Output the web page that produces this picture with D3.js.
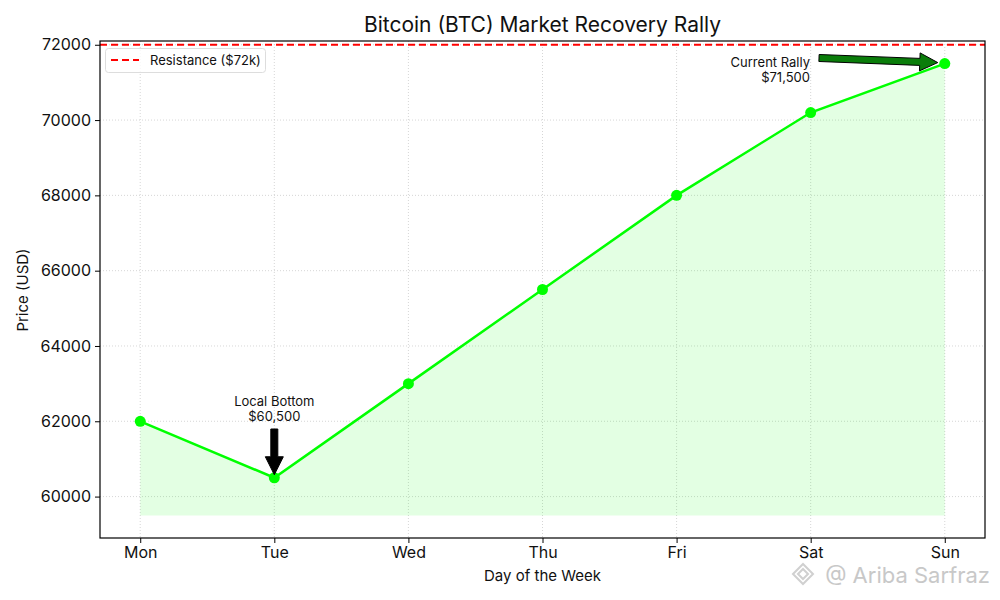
<!DOCTYPE html>
<html><head><meta charset="utf-8">
<script src="https://cdn.jsdelivr.net/npm/d3@7"></script>
<style>body{margin:0;background:#fff;} text{font-family:Inter,"Open Sans",sans-serif;}</style>
</head><body>
<svg id="chart" width="1000" height="600"></svg>
<script>
const days = ["Mon","Tue","Wed","Thu","Fri","Sat","Sun"];
const prices = [62000, 60500, 63000, 65500, 68000, 70200, 71500];
const yTicks = [60000, 62000, 64000, 66000, 68000, 70000, 72000];
const resistance = 72000;
const fillBase = 59500;
const yDomain = [58900, 72100];

const svg = d3.select("#chart");
const L = 100, R = 985, T = 41, B = 538;
const x = d3.scaleLinear().domain([-0.3, 6.3]).range([L, R]);
const y = d3.scaleLinear().domain(yDomain).range([B, T]);

// grid
const g = svg.append("g");
g.selectAll(".vg").data(days).enter().append("line")
  .attr("x1",(d,i)=>x(i)).attr("x2",(d,i)=>x(i)).attr("y1",T).attr("y2",B)
  .attr("stroke","#ccc").attr("stroke-width",0.8).attr("stroke-dasharray","1,2");
g.selectAll(".hg").data(yTicks).enter().append("line")
  .attr("x1",L).attr("x2",R).attr("y1",d=>y(d)).attr("y2",d=>y(d))
  .attr("stroke","#ccc").attr("stroke-width",0.8).attr("stroke-dasharray","1,2");

// area
const area = d3.area().x((d,i)=>x(i)).y0(y(fillBase)).y1(d=>y(d));
svg.append("path").datum(prices).attr("d",area).attr("fill","#00ff00").attr("fill-opacity",0.11);

// line
const line = d3.line().x((d,i)=>x(i)).y(d=>y(d));
svg.append("path").datum(prices).attr("d",line).attr("fill","none").attr("stroke","#00ff00").attr("stroke-width",2.5);
svg.selectAll(".pt").data(prices).enter().append("circle")
  .attr("cx",(d,i)=>x(i)).attr("cy",d=>y(d)).attr("r",5.5).attr("fill","#00ff00");

// resistance
svg.append("line").attr("x1",L).attr("x2",R).attr("y1",y(resistance)).attr("y2",y(resistance))
  .attr("stroke","#ff0000").attr("stroke-width",2).attr("stroke-dasharray","7,4");

// axes
const xAxis = d3.axisBottom(x).tickValues(d3.range(days.length)).tickFormat(i=>days[i]).tickSize(5).tickPadding(4);
const yAxis = d3.axisLeft(y).tickValues(yTicks).tickFormat(d3.format("d")).tickSize(5).tickPadding(4);
const gx = svg.append("g").attr("transform",`translate(0,${B})`).call(xAxis);
const gy = svg.append("g").attr("transform",`translate(${L},0)`).call(yAxis);
[gx,gy].forEach(a=>{a.select(".domain").remove(); a.selectAll("text").attr("font-size",16).attr("fill","#111"); a.selectAll("line").attr("stroke","#000");});
svg.append("rect").attr("x",L).attr("y",T).attr("width",R-L).attr("height",B-T).attr("fill","none").attr("stroke","#000").attr("stroke-width",1.2);

// labels
svg.append("text").attr("x",(L+R)/2).attr("y",32).attr("text-anchor","middle").attr("font-size",21).attr("fill","#111").text("Bitcoin (BTC) Market Recovery Rally");
svg.append("text").attr("x",(L+R)/2).attr("y",581).attr("text-anchor","middle").attr("font-size",15).attr("fill","#111").text("Day of the Week");
svg.append("text").attr("transform","translate(28,290) rotate(-90)").attr("text-anchor","middle").attr("font-size",15).attr("fill","#111").text("Price (USD)");

// legend
svg.append("rect").attr("x",105.5).attr("y",48.5).attr("width",160).attr("height",24).attr("rx",3)
  .attr("fill","#fff").attr("fill-opacity",0.8).attr("stroke","#ddd");
svg.append("line").attr("x1",111).attr("x2",139).attr("y1",60).attr("y2",60).attr("stroke","#ff0000").attr("stroke-width",2).attr("stroke-dasharray","7,4");
svg.append("text").attr("x",150).attr("y",64.5).attr("font-size",13).attr("fill","#111").text("Resistance ($72k)");

// annotation: local bottom
const tueX = x(1), tueY = y(prices[1]);
svg.append("text").attr("x",tueX).attr("y",406).attr("text-anchor","middle").attr("font-size",13).attr("fill","#111").text("Local Bottom");
svg.append("text").attr("x",tueX).attr("y",421).attr("text-anchor","middle").attr("font-size",13).attr("fill","#111").text("$60,500");
function fatArrow(x0,y0,x1,y1,fill){
  const dx=x1-x0, dy=y1-y0, len=Math.hypot(dx,dy), ux=dx/len, uy=dy/len, px=-uy, py=ux;
  const sw=3.5, hw=9, hl=18;
  const bx=x1-ux*hl, by=y1-uy*hl;
  const pts=[[x0+px*sw,y0+py*sw],[bx+px*sw,by+py*sw],[bx+px*hw,by+py*hw],[x1,y1],[bx-px*hw,by-py*hw],[bx-px*sw,by-py*sw],[x0-px*sw,y0-py*sw]];
  svg.append("path").attr("d","M"+pts.map(p=>p.join(",")).join("L")+"Z").attr("fill",fill).attr("stroke","#000").attr("stroke-width",1);
}
fatArrow(tueX, 429, tueX, tueY-3, "#000");

// annotation: current rally
const sunX = x(6), sunY = y(prices[6]);
svg.append("text").attr("x",810).attr("y",67).attr("text-anchor","end").attr("font-size",13).attr("fill","#111").text("Current Rally");
svg.append("text").attr("x",810).attr("y",82).attr("text-anchor","end").attr("font-size",13).attr("fill","#111").text("$71,500");
fatArrow(819, 58, sunX-7, sunY-1, "#0a7d0a");

// watermark
svg.append("text").attr("x",990).attr("y",583).attr("text-anchor","end").attr("font-size",22).attr("fill","#c8c8c8").text("@ Ariba Sarfraz");
svg.append("path").attr("d","M793,574 l10,-10 l10,10 l-10,10 z M798,574 l5,-5 l5,5 l-5,5 z").attr("fill","none").attr("stroke","#d0d0d0").attr("stroke-width",2);
</script>
</body></html>
